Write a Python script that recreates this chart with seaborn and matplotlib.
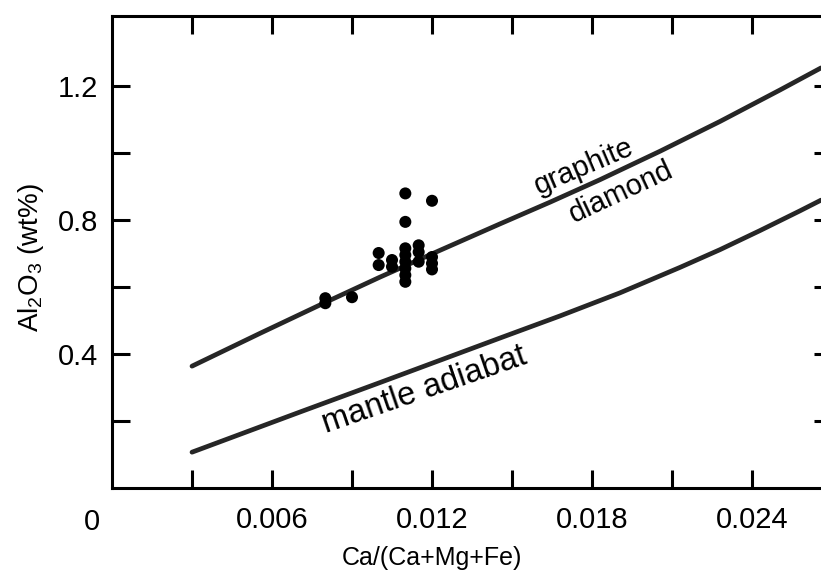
import matplotlib
matplotlib.use("Agg")
import matplotlib.pyplot as plt
import seaborn as sns
import pandas as pd

# Graphite-diamond boundary: Ca/(Ca+Mg+Fe) vs Al2O3 (wt%)
gd_x = [0.00300, 0.00555, 0.00799, 0.01005, 0.01230, 0.01455,
        0.01643, 0.01830, 0.02055, 0.02280, 0.02505, 0.02659]
gd_y = [0.364, 0.462, 0.554, 0.630, 0.710, 0.789,
        0.854, 0.921, 1.006, 1.095, 1.189, 1.255]

# Mantle adiabat
ad_x = [0.00300, 0.00705, 0.01005, 0.01455, 0.01680, 0.01905,
        0.02130, 0.02280, 0.02430, 0.02580, 0.02659]
ad_y = [0.107, 0.227, 0.315, 0.448, 0.514, 0.583,
        0.659, 0.712, 0.769, 0.828, 0.860]

# Garnet inclusion analyses
pt_x = [0.008, 0.008, 0.009,
        0.010, 0.010,
        0.0105, 0.0105,
        0.011, 0.011, 0.011, 0.011, 0.011, 0.011, 0.011, 0.011,
        0.0115, 0.0115, 0.0115,
        0.012, 0.012, 0.012, 0.012]
pt_y = [0.567, 0.552, 0.570,
        0.702, 0.666,
        0.681, 0.661,
        0.880, 0.795, 0.716, 0.696, 0.676, 0.656, 0.636, 0.616,
        0.725, 0.705, 0.676,
        0.858, 0.690, 0.671, 0.653]

x_major = [0.006, 0.012, 0.018, 0.024]
x_minor = [0.003, 0.009, 0.015, 0.021]
x_labels = ["0.006", "0.012", "0.018", "0.024"]
y_major = [0.4, 0.8, 1.2]
y_minor = [0.2, 0.6, 1.0]
y_labels = ["0.4", "0.8", "1.2"]

sns.set_style("ticks")
plt.rcParams["font.family"] = ["Liberation Sans", "DejaVu Sans"]
plt.rcParams["mathtext.default"] = "regular"
for key in ("text.color", "axes.labelcolor", "xtick.color", "ytick.color",
            "xtick.labelcolor", "ytick.labelcolor"):
    plt.rcParams[key] = "black"

W, H = 821, 577
fig = plt.figure(figsize=(W / 100, H / 100), dpi=100)
ax = fig.add_axes([112 / W, 89 / H, (832 - 112) / W, (561 - 89) / H])

ink = "#262626"
gd = pd.DataFrame({"x": gd_x, "y": gd_y})
ad = pd.DataFrame({"x": ad_x, "y": ad_y})
pts = pd.DataFrame({"x": pt_x, "y": pt_y})

sns.lineplot(data=gd, x="x", y="y", sort=False, estimator=None,
             color=ink, lw=3.4, ax=ax)
sns.lineplot(data=ad, x="x", y="y", sort=False, estimator=None,
             color=ink, lw=3.4, ax=ax)
sns.scatterplot(data=pts, x="x", y="y", color="black", s=75,
                edgecolor="none", ax=ax, zorder=3)

ax.set_xlim(0, 0.027)
ax.set_ylim(0, 1.41)

ax.set_xticks(x_major)
ax.set_xticklabels(x_labels)
ax.set_xticks(x_minor, minor=True)
ax.set_yticks(y_major)
ax.set_yticklabels(y_labels)
ax.set_yticks(y_minor, minor=True)

for which in ("major", "minor"):
    ax.tick_params(axis="both", which=which, direction="in", top=True,
                   right=True, length=13, width=2.2, color="black",
                   labelsize=21, pad=10)
ax.tick_params(axis="x", which="major", pad=13)

for sp in ax.spines.values():
    sp.set_linewidth(2.2)
    sp.set_color("black")
    sp.set_visible(True)

ax.set_xlabel("Ca/(Ca+Mg+Fe)", fontsize=18)
ax.xaxis.set_label_coords(0.012 / 0.027, -0.122)
ax.set_ylabel(r"Al$_2$O$_3$ (wt%)", fontsize=20)
ax.yaxis.set_label_coords(-0.091, 0.489)

ax.annotate("0", xy=(0, 0), xytext=(-20, -34), textcoords="offset pixels",
            ha="center", va="center", fontsize=21)

ax.text(0.0177, 0.961, "graphite", rotation=23, fontsize=21,
        ha="center", va="center", rotation_mode="anchor")
ax.text(0.0191, 0.884, "diamond", rotation=25, fontsize=21,
        ha="center", va="center", rotation_mode="anchor")
ax.text(0.0117, 0.2925, "mantle adiabat", rotation=19, fontsize=23.5,
        ha="center", va="center", rotation_mode="anchor")

fig.savefig("out.png", dpi=100)
